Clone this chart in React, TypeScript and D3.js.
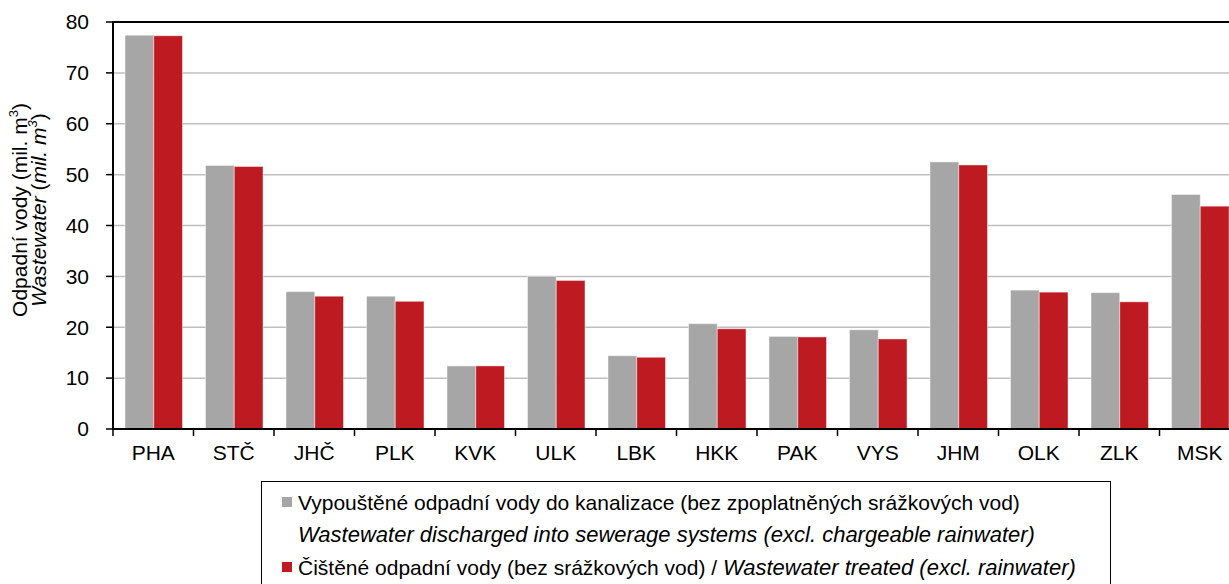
import React from "react";
import * as d3 from "d3";

const categories = ["PHA", "STČ", "JHČ", "PLK", "KVK", "ULK", "LBK", "HKK", "PAK", "VYS", "JHM", "OLK", "ZLK", "MSK"];
const discharged = [77.4, 51.8, 27.0, 26.1, 12.4, 30.0, 14.4, 20.7, 18.2, 19.5, 52.5, 27.3, 26.8, 46.1];
const treated = [77.3, 51.6, 26.1, 25.1, 12.4, 29.2, 14.1, 19.7, 18.1, 17.7, 51.9, 26.9, 25.0, 43.8];
const yTicks = [0, 10, 20, 30, 40, 50, 60, 70, 80];
const seriesKeys = ["discharged", "treated"];
const seriesColors = ["#a6a6a6", "#be1a22"];

const W = 1229;
const H = 584;
const FONT = "'Liberation Sans', Arial, sans-serif";

export default function App() {
  const x0 = 113;
  const bandW = 80.5;
  const x = d3.scaleBand<string>().domain(categories).range([x0, x0 + bandW * categories.length]).padding(0);
  const x1 = d3.scaleBand<string>().domain(seriesKeys).range([12, 69.5]).padding(0);
  const y = d3.scaleLinear().domain([0, 80]).range([429, 22]);
  const values = [discharged, treated];
  const fs = 21;
  const fsi = 22;

  return (
    <svg width={W} height={H} style={{ position: "fixed", left: 0, top: 0, background: "#fff" }} fontFamily={FONT}>
      <rect x={0} y={0} width={W} height={H} fill="#fff" />
      {yTicks.filter((t) => t > 0 && t < 80).map((t) => (
        <line key={t} x1={x0} x2={W} y1={y(t)} y2={y(t)} stroke="#bfbfbf" strokeWidth={1.5} />
      ))}
      {categories.map((c, i) => (
        <g key={c} transform={`translate(${x(c)},0)`}>
          {seriesKeys.map((k, si) => (
            <rect
              key={k}
              x={x1(k)}
              y={y(values[si][i])}
              width={x1.bandwidth()}
              height={y(0) - y(values[si][i])}
              fill={seriesColors[si]}
              stroke="#ffffff"
              strokeOpacity={0.45}
              strokeWidth={1}
            />
          ))}
        </g>
      ))}
      <line x1={x0} x2={W} y1={y(80)} y2={y(80)} stroke="#000" strokeWidth={2} />
      <line x1={x0} x2={x0} y1={y(80) - 1} y2={y(0) + 1} stroke="#000" strokeWidth={2} />
      {yTicks.map((t) => (
        <g key={t}>
          <line x1={x0 - 7} x2={x0} y1={y(t)} y2={y(t)} stroke="#000" strokeWidth={1.5} />
          <text x={89} y={y(t)} dy="0.35em" textAnchor="end" fontSize={fs} fill="#000">{t}</text>
        </g>
      ))}
      <line x1={x0} x2={W} y1={y(0)} y2={y(0)} stroke="#000" strokeWidth={2} />
      {categories.map((c) => (
        <line key={"t" + c} x1={x(c)!} x2={x(c)!} y1={y(0)} y2={y(0) + 7} stroke="#000" strokeWidth={1.5} />
      ))}
      {categories.map((c) => (
        <text key={"l" + c} x={x(c)! + x.bandwidth() / 2} y={y(0) + 31} textAnchor="middle" fontSize={fs} fill="#000">{c}</text>
      ))}
      <g transform={`translate(27,210) rotate(-90)`}>
        <text x={0} y={0} textAnchor="middle" fontSize={fs} fill="#000">
          Odpadní vody (mil. m<tspan fontSize={13} dy={-9}>3</tspan><tspan dy={9}>)</tspan>
        </text>
        <text x={0} y={19} textAnchor="middle" fontSize={fs} fill="#000">
          <tspan fontStyle="italic">Wastewater</tspan> (<tspan fontStyle="italic">mil. m</tspan><tspan fontStyle="italic" fontSize={13} dy={-9}>3</tspan><tspan dy={9}>)</tspan>
        </text>
      </g>
      <rect x={261.5} y={481.5} width={849} height={150} fill="#fff" stroke="#000" strokeWidth={1} />
      <rect x={282} y={497} width={10} height={10} fill={seriesColors[0]} />
      <text x={298} y={510} fontSize={fs} fill="#000">Vypouštěné odpadní vody do kanalizace (bez zpoplatněných srážkových vod)</text>
      <text x={298} y={542} fontSize={fsi} fontStyle="italic" fill="#000">Wastewater discharged into sewerage systems (excl. chargeable rainwater)</text>
      <rect x={282} y={562} width={10} height={10} fill={seriesColors[1]} />
      <text x={298} y={575} fontSize={fs} fill="#000">
        Čištěné odpadní vody (bez srážkových vod) / <tspan fontStyle="italic" fontSize={fsi}>Wastewater treated (excl. rainwater)</tspan>
      </text>
    </svg>
  );
}
